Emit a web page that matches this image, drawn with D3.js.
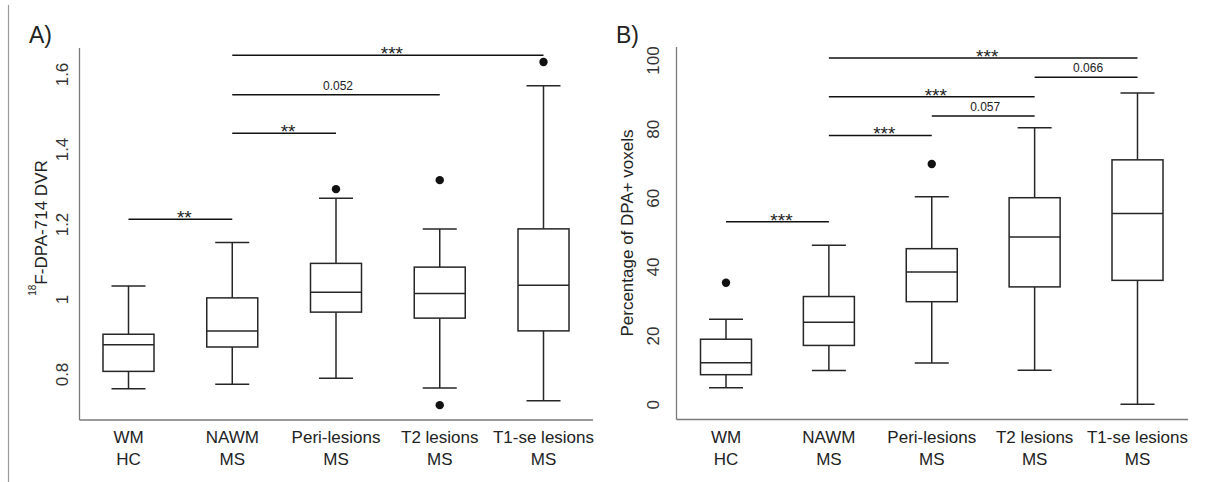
<!DOCTYPE html>
<html>
<head>
<meta charset="utf-8">
<script src="https://cdn.jsdelivr.net/npm/d3@7"></script>
<style>
  html, body { margin: 0; padding: 0; background: #fff; }
  svg { display: block; font-family: "Liberation Sans", Arial, Helvetica, sans-serif; }
</style>
</head>
<body>
<svg id="chart" width="1210" height="482"></svg>
<script>
// ---------- DATA ----------
const categories = ["WM|HC", "NAWM|MS", "Peri-lesions|MS", "T2 lesions|MS", "T1-se lesions|MS"];

// Panel A: 18F-DPA-714 DVR
const lowA  = [0.761, 0.773, 0.789, 0.763, 0.729];
const q1A   = [0.807, 0.872, 0.965, 0.949, 0.915];
const medA  = [0.878, 0.915, 1.018, 1.015, 1.037];
const q3A   = [0.906, 1.003, 1.095, 1.085, 1.187];
const highA = [1.035, 1.151, 1.269, 1.187, 1.569];
const outliersA = [[], [], [1.293], [1.317, 0.717], [1.632]];
const ticksA = [0.8, 1.0, 1.2, 1.4, 1.6];
const tickLabelsA = ["0.8", "1", "1.2", "1.4", "1.6"];
const sigFromA = [0, 1, 1, 1];
const sigToA   = [1, 2, 3, 4];
const sigValA  = [1.213, 1.442, 1.545, 1.650];
const sigTextA = ["**", "**", "0.052", "***"];

// Panel B: Percentage of DPA+ voxels
const lowB  = [4.8, 9.8, 12.0, 9.9, 0.0];
const q1B   = [8.6, 17.1, 29.8, 34.1, 36.0];
const medB  = [12.1, 23.8, 38.4, 48.6, 55.4];
const q3B   = [18.9, 31.3, 45.2, 60.0, 71.0];
const highB = [24.7, 46.2, 60.3, 80.3, 90.4];
const outliersB = [[35.3], [], [69.8], [], []];
const ticksB = [0, 20, 40, 60, 80, 100];
const tickLabelsB = ["0", "20", "40", "60", "80", "100"];
const sigFromB = [0, 1, 2, 1, 3, 1];
const sigToB   = [1, 2, 3, 3, 4, 4];
const sigValB  = [53.0, 78.1, 83.7, 89.3, 95.0, 100.6];
const sigTextB = ["***", "***", "0.057", "***", "0.066", "***"];

// ---------- DRAW ----------
const svg = d3.select("#chart");
const axisColor = "#7a7a7a";
const boxColor = "#262626";

// left border line
svg.append("line").attr("x1", 8.5).attr("x2", 8.5).attr("y1", 5).attr("y2", 482)
  .attr("stroke", "#9a9a9a").attr("stroke-width", 1.2);

function panel(cfg) {
  const g = svg.append("g");
  const x = d3.scalePoint().domain(categories).range(cfg.xRange);
  const y = d3.scaleLinear().domain(cfg.yDomain).range(cfg.yRange);
  const boxW = 51, capW = 34;

  // L-shaped frame
  g.append("line").attr("x1", cfg.axisX).attr("x2", cfg.axisX)
    .attr("y1", cfg.axisTop).attr("y2", cfg.axisBottom)
    .attr("stroke", axisColor).attr("stroke-width", 1.3);
  g.append("line").attr("x1", cfg.axisX).attr("x2", cfg.axisRight)
    .attr("y1", cfg.axisBottom).attr("y2", cfg.axisBottom)
    .attr("stroke", axisColor).attr("stroke-width", 1.3);

  // y ticks (rotated labels, no tick marks)
  const yAxis = d3.axisLeft(y).tickValues(cfg.ticks).tickSize(0)
    .tickFormat((d, i) => cfg.tickLabels[i]);
  const ya = g.append("g").attr("transform", `translate(${cfg.axisX},0)`).call(yAxis);
  ya.select(".domain").remove();
  ya.selectAll(".tick text")
    .attr("x", 0).attr("dy", null)
    .attr("transform", `translate(${-cfg.tickOffset},0) rotate(-90)`)
    .attr("text-anchor", "middle")
    .attr("dominant-baseline", "central")
    .attr("font-size", 17).attr("fill", "#333")
    .attr("font-family", "'Liberation Sans', Arial, sans-serif");

  // x labels (two lines)
  const xl = g.append("g");
  categories.forEach(c => {
    const parts = c.split("|");
    xl.append("text").attr("x", x(c)).attr("y", 443)
      .attr("text-anchor", "middle").attr("font-size", 17).attr("fill", "#222")
      .text(parts[0]);
    xl.append("text").attr("x", x(c)).attr("y", 465)
      .attr("text-anchor", "middle").attr("font-size", 17).attr("fill", "#222")
      .text(parts[1]);
  });

  // boxes
  const bw = 1.5;
  categories.forEach((c, i) => {
    const cx = x(c);
    const lo = cfg.low[i], q1 = cfg.q1[i], md = cfg.med[i], q3 = cfg.q3[i], hi = cfg.high[i];
    g.append("line").attr("x1", cx).attr("x2", cx).attr("y1", y(q3)).attr("y2", y(hi))
      .attr("stroke", boxColor).attr("stroke-width", bw);
    g.append("line").attr("x1", cx).attr("x2", cx).attr("y1", y(q1)).attr("y2", y(lo))
      .attr("stroke", boxColor).attr("stroke-width", bw);
    g.append("line").attr("x1", cx - capW / 2).attr("x2", cx + capW / 2).attr("y1", y(hi)).attr("y2", y(hi))
      .attr("stroke", boxColor).attr("stroke-width", bw);
    g.append("line").attr("x1", cx - capW / 2).attr("x2", cx + capW / 2).attr("y1", y(lo)).attr("y2", y(lo))
      .attr("stroke", boxColor).attr("stroke-width", bw);
    g.append("rect").attr("x", cx - boxW / 2).attr("y", y(q3))
      .attr("width", boxW).attr("height", y(q1) - y(q3))
      .attr("fill", "#fff").attr("stroke", boxColor).attr("stroke-width", bw);
    g.append("line").attr("x1", cx - boxW / 2).attr("x2", cx + boxW / 2).attr("y1", y(md)).attr("y2", y(md))
      .attr("stroke", boxColor).attr("stroke-width", bw);
    cfg.outliers[i].forEach(v => {
      g.append("circle").attr("cx", cx).attr("cy", y(v)).attr("r", 4.2).attr("fill", "#111");
    });
  });

  // significance bars
  cfg.sigVal.forEach((v, i) => {
    const x1 = x(categories[cfg.sigFrom[i]]), x2 = x(categories[cfg.sigTo[i]]);
    g.append("line").attr("x1", x1).attr("x2", x2).attr("y1", y(v)).attr("y2", y(v))
      .attr("stroke", "#111").attr("stroke-width", 1.5);
    const txt = cfg.sigText[i];
    const isNum = /\d/.test(txt);
    g.append("text").attr("x", (x1 + x2) / 2 + (isNum ? 2 : 4))
      .attr("y", y(v) + (isNum ? -5 : 5))
      .attr("text-anchor", "middle")
      .attr("font-size", isNum ? 12 : 19)
      .attr("fill", "#222")
      .text(txt);
  });

  // y axis title
  const yt = g.append("text")
    .attr("transform", `translate(${cfg.titleX},${cfg.titleY}) rotate(-90)`)
    .attr("text-anchor", "middle").attr("dominant-baseline", "central")
    .attr("font-size", 17).attr("fill", "#222");
  if (cfg.sup) {
    yt.append("tspan").attr("font-size", 10).attr("dy", "-0.5em").text(cfg.sup);
    yt.append("tspan").attr("dy", "0.5em").text(cfg.yTitle);
  } else {
    yt.text(cfg.yTitle);
  }

  // panel letter
  g.append("text").attr("x", cfg.letterX).attr("y", 43)
    .attr("font-size", 23).attr("fill", "#222").text(cfg.letter);
}

panel({
  xRange: [128.5, 543.5], yDomain: [0.8, 1.6], yRange: [374, 74],
  axisX: 79.5, axisTop: 48, axisBottom: 420, axisRight: 593,
  ticks: ticksA, tickLabels: tickLabelsA, tickOffset: 17,
  low: lowA, q1: q1A, med: medA, q3: q3A, high: highA, outliers: outliersA,
  sigFrom: sigFromA, sigTo: sigToA, sigVal: sigValA, sigText: sigTextA,
  titleX: 37, titleY: 228, yTitle: "F-DPA-714 DVR", sup: "18",
  letter: "A)", letterX: 29
});

panel({
  xRange: [726, 1137.5], yDomain: [0, 100], yRange: [404.3, 60],
  axisX: 676.5, axisTop: 47, axisBottom: 419.5, axisRight: 1188,
  ticks: ticksB, tickLabels: tickLabelsB, tickOffset: 23,
  low: lowB, q1: q1B, med: medB, q3: q3B, high: highB, outliers: outliersB,
  sigFrom: sigFromB, sigTo: sigToB, sigVal: sigValB, sigText: sigTextB,
  titleX: 627, titleY: 233, yTitle: "Percentage of DPA+ voxels", sup: null,
  letter: "B)", letterX: 616
});
</script>
</body>
</html>
